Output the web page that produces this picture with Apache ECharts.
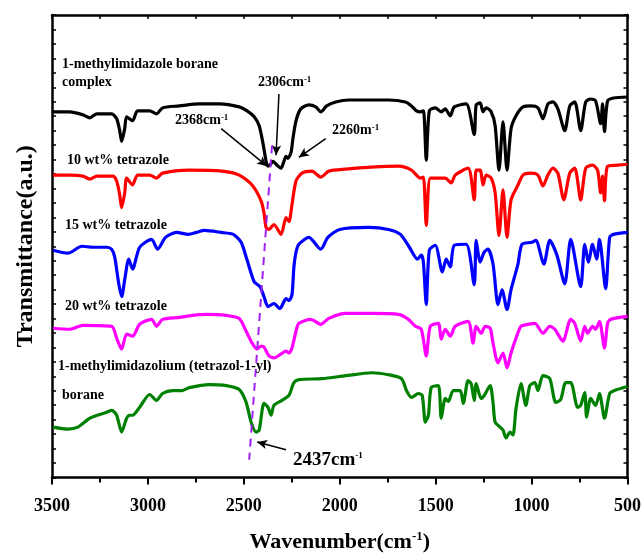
<!DOCTYPE html>
<html>
<head>
<meta charset="utf-8">
<script src="https://cdn.jsdelivr.net/npm/echarts@6/dist/echarts.min.js"></script>
<style>
  html, body { margin: 0; padding: 0; background: #fff; }
  #chart { width: 644px; height: 558px; }
</style>
</head>
<body>
<div id="chart"></div>
<script>
// FTIR spectra, [wavenumber (cm-1), transmittance (a.u., offset)]
var borane = [
  [3495, 37.0], [3407, 37.0], [3339, 36.7], [3303, 36.4], [3266, 36.8], [3189, 36.8], [3163, 36.3],
  [3147, 35.1], [3137, 34.0], [3121, 35.3], [3111, 36.5], [3080, 36.1], [3054, 37.1], [2991, 37.1],
  [2955, 36.8], [2924, 37.4], [2836, 37.6], [2732, 37.8], [2628, 37.8], [2524, 37.5], [2483, 37.1],
  [2446, 36.5], [2420, 35.6], [2400, 33.8], [2384, 32.0], [2374, 31.5], [2364, 31.6], [2348, 32.0],
  [2327, 31.6], [2306, 31.3], [2291, 32.0], [2280, 32.5], [2270, 32.3], [2254, 32.9], [2244, 34.3],
  [2228, 36.1], [2203, 37.3], [2161, 37.7], [2125, 37.5], [2099, 37.0], [2068, 37.6], [2021, 38.0],
  [1953, 38.2], [1746, 38.2], [1658, 38.0], [1626, 37.6], [1600, 37.1], [1580, 37.0], [1564, 37.1],
  [1549, 32.1], [1533, 37.1], [1502, 37.4], [1471, 37.0], [1450, 37.3], [1424, 36.6], [1403, 37.5],
  [1341, 37.8], [1299, 34.7], [1289, 37.7], [1268, 37.9], [1253, 37.0], [1237, 37.4], [1211, 37.0],
  [1190, 35.6], [1170, 31.1], [1149, 36.0], [1128, 31.1], [1107, 35.3], [1081, 36.6], [1045, 37.5],
  [1004, 37.6], [967, 37.4], [941, 36.3], [915, 37.8], [889, 38.0], [863, 37.3], [827, 35.1],
  [801, 37.6], [775, 38.0], [744, 35.1], [718, 38.0], [692, 38.3], [666, 38.1], [640, 35.8],
  [630, 37.8], [620, 35.0], [604, 38.1], [573, 38.4], [500, 38.5]
];
var tz10 = [
  [3495, 30.6], [3407, 30.6], [3339, 30.5], [3303, 30.2], [3266, 30.5], [3183, 30.5], [3163, 30.0],
  [3147, 28.6], [3137, 27.3], [3121, 28.8], [3111, 30.3], [3080, 29.6], [3054, 30.6], [2991, 30.6],
  [2955, 30.3], [2924, 30.8], [2784, 31.1], [2613, 31.0], [2524, 30.6], [2457, 29.6], [2410, 28.0],
  [2395, 26.8], [2384, 25.3], [2369, 25.1], [2343, 25.6], [2306, 24.6], [2280, 26.3], [2265, 25.9],
  [2249, 27.6], [2228, 30.0], [2197, 30.8], [2145, 31.0], [2099, 30.4], [2057, 31.0], [1969, 31.2],
  [1834, 31.4], [1694, 31.5], [1626, 31.1], [1580, 30.3], [1564, 30.4], [1549, 25.5], [1528, 30.3],
  [1486, 30.3], [1450, 30.3], [1419, 29.8], [1398, 30.6], [1331, 31.3], [1299, 28.1], [1289, 31.1],
  [1268, 31.1], [1253, 29.6], [1237, 30.6], [1211, 30.3], [1190, 28.8], [1170, 24.5], [1149, 29.1],
  [1128, 24.3], [1107, 28.1], [1071, 29.6], [1045, 30.6], [1004, 30.8], [967, 30.6], [941, 29.5],
  [915, 30.6], [889, 31.3], [863, 30.8], [832, 28.1], [801, 30.8], [775, 31.3], [744, 28.1],
  [718, 31.3], [682, 31.6], [656, 31.1], [640, 28.8], [630, 30.5], [620, 28.0], [604, 31.5],
  [552, 31.6], [500, 31.7]
];
var tz15 = [
  [3495, 23.0], [3417, 22.7], [3344, 23.4], [3287, 23.3], [3215, 23.3], [3189, 23.1], [3173, 22.3],
  [3152, 19.6], [3137, 18.3], [3121, 20.0], [3100, 22.1], [3080, 21.1], [3043, 23.3], [2981, 24.1],
  [2950, 23.1], [2908, 24.3], [2851, 24.8], [2789, 24.6], [2747, 24.8], [2706, 25.0], [2618, 24.8],
  [2555, 24.6], [2514, 23.8], [2483, 22.0], [2446, 19.8], [2415, 19.3], [2395, 18.3], [2374, 17.3],
  [2343, 17.6], [2312, 17.1], [2280, 18.1], [2265, 17.9], [2249, 18.5], [2239, 21.3], [2228, 22.8],
  [2213, 23.6], [2161, 24.3], [2099, 23.1], [2062, 24.3], [2000, 25.1], [1850, 25.3], [1746, 25.1],
  [1684, 24.6], [1637, 23.3], [1595, 22.1], [1575, 22.5], [1564, 21.8], [1549, 17.5], [1533, 23.0],
  [1502, 23.5], [1465, 20.8], [1445, 22.1], [1424, 21.3], [1403, 23.5], [1341, 23.6], [1299, 19.5],
  [1289, 24.0], [1268, 21.8], [1247, 22.8], [1227, 23.1], [1201, 21.6], [1175, 17.5], [1154, 19.0],
  [1128, 17.0], [1107, 19.0], [1071, 21.6], [1050, 23.6], [998, 23.8], [978, 24.0], [936, 21.6],
  [905, 24.0], [868, 22.5], [827, 19.6], [796, 24.1], [744, 19.3], [723, 23.6], [703, 21.8],
  [682, 23.6], [661, 22.1], [646, 24.1], [614, 19.1], [593, 24.3], [573, 24.6], [500, 24.8]
];
var tz20 = [
  [3495, 15.1], [3407, 15.0], [3339, 15.4], [3189, 15.3], [3163, 14.1], [3137, 13.0], [3111, 14.5],
  [3080, 14.3], [3043, 15.5], [2981, 16.0], [2955, 15.3], [2924, 16.0], [2836, 16.2], [2768, 16.4],
  [2696, 16.5], [2592, 16.4], [2524, 16.1], [2488, 14.8], [2457, 13.6], [2431, 13.0], [2410, 13.3],
  [2395, 13.2], [2369, 12.3], [2343, 12.1], [2306, 12.5], [2280, 12.8], [2265, 12.6], [2249, 13.1],
  [2228, 14.8], [2213, 15.6], [2151, 16.0], [2099, 15.5], [2057, 16.1], [1969, 16.6], [1834, 16.6],
  [1694, 16.5], [1642, 16.0], [1606, 15.3], [1575, 15.0], [1549, 12.3], [1528, 15.3], [1486, 15.6],
  [1471, 14.0], [1450, 15.0], [1424, 14.3], [1398, 15.3], [1331, 15.8], [1305, 13.6], [1289, 15.3],
  [1263, 14.6], [1242, 15.3], [1216, 15.1], [1201, 13.6], [1175, 11.6], [1149, 12.6], [1128, 11.1],
  [1107, 12.6], [1081, 14.1], [1055, 15.3], [1019, 15.5], [983, 15.6], [941, 14.6], [905, 15.3],
  [879, 15.0], [837, 13.8], [796, 16.0], [775, 15.6], [744, 13.8], [723, 15.3], [708, 14.6],
  [682, 15.3], [666, 15.0], [646, 15.8], [620, 13.1], [604, 15.6], [588, 16.0], [500, 16.3]
];
var tzBorane = [
  [3495, 5.1], [3417, 4.9], [3365, 5.1], [3303, 6.0], [3215, 6.6], [3189, 6.8], [3163, 6.3],
  [3137, 4.6], [3111, 6.0], [3095, 6.3], [3080, 6.3], [3043, 7.1], [2991, 8.4], [2955, 7.8],
  [2924, 8.5], [2872, 8.8], [2820, 8.8], [2784, 9.1], [2680, 9.4], [2592, 9.3], [2524, 8.9],
  [2488, 7.6], [2462, 5.6], [2436, 4.6], [2420, 4.8], [2395, 7.5], [2374, 7.1], [2358, 6.3],
  [2343, 7.3], [2301, 7.8], [2265, 8.3], [2239, 9.6], [2213, 9.9], [2093, 10.0], [1969, 10.3],
  [1834, 10.6], [1746, 10.4], [1678, 10.0], [1652, 8.8], [1626, 8.1], [1590, 8.5], [1570, 8.3],
  [1554, 5.6], [1538, 6.3], [1523, 9.1], [1486, 9.3], [1471, 6.0], [1450, 8.0], [1434, 7.7],
  [1408, 8.8], [1372, 8.8], [1356, 7.5], [1331, 9.8], [1315, 9.5], [1299, 7.8], [1289, 9.5],
  [1263, 8.0], [1247, 8.3], [1216, 9.3], [1201, 7.6], [1190, 5.6], [1164, 5.1], [1149, 4.8],
  [1133, 4.0], [1112, 4.6], [1097, 4.3], [1081, 7.0], [1055, 9.5], [1030, 7.3], [1009, 9.3],
  [983, 9.6], [967, 8.8], [941, 10.3], [905, 10.0], [874, 7.6], [848, 7.9], [822, 9.6],
  [796, 9.6], [760, 7.1], [744, 7.3], [723, 8.6], [713, 6.1], [692, 8.0], [666, 7.3],
  [646, 8.5], [620, 6.0], [593, 8.5], [568, 8.8], [500, 9.2]
];

// dashed guide line through the B-H peak shift
var guideLine = [[2353, 33.6], [2472, 1.8]];
// arrows: [fromWn, fromT, toWn, toT]
var arrows = [
  [2618, 35.3, 2379, 31.5],
  [2317, 38.8, 2332, 32.6],
  [2073, 34.3, 2213, 32.4],
  [2280, 2.8, 2431, 3.6]
];

var serif = '"Liberation Serif", "Times New Roman", serif';
var chart = echarts.init(document.getElementById('chart'));

function spec (data, color) {
  return {
    type: 'line',
    data: data,
    showSymbol: false,
    smooth: 0.25,
    lineStyle: { color: color, width: 3.2 },
    z: 3
  };
}

// labels drawn as plain text in the plot
function label (left, top, text, size) {
  return {
    type: 'text',
    left: left,
    top: top,
    style: {
      text: text,
      fill: '#000',
      font: 'bold ' + (size || 14) + 'px ' + serif,
      rich: {
        s: { fontSize: 9, fontWeight: 'bold', fontFamily: serif, verticalAlign: 'top', padding: [0, 0, 6, 0] }
      }
    },
    z: 10
  };
}

var axisLine = { show: true, onZero: false, lineStyle: { color: '#000', width: 2.5 } };

var option = {
  animation: false,
  backgroundColor: '#fff',
  grid: { left: 52, right: 14, top: 15, bottom: 75 },
  xAxis: [
    {
      type: 'value', min: 500, max: 3500, interval: 500, inverse: true, position: 'bottom',
      axisLine: axisLine,
      axisTick: { inside: false, length: 7, lineStyle: { color: '#000', width: 2 } },
      minorTick: { show: true, splitNumber: 2, length: 5, lineStyle: { color: '#000', width: 2 } },
      splitLine: { show: false },
      axisLabel: {
        color: '#000', fontFamily: serif, fontWeight: 'bold', fontSize: 18, margin: 20,
        formatter: function (v) { return String(v); }
      },
      name: '{a|Wavenumber(cm}{s|-1}{a|)}',
      nameLocation: 'middle',
      nameGap: 53,
      nameTextStyle: {
        rich: {
          a: { fontSize: 22, fontWeight: 'bold', fontFamily: serif, color: '#000' },
          s: { fontSize: 13, fontWeight: 'bold', fontFamily: serif, color: '#000', verticalAlign: 'top', padding: [0, 0, 10, 0] }
        }
      }
    },
    {
      type: 'value', min: 500, max: 3500, interval: 250, inverse: true, position: 'top',
      axisLine: axisLine,
      axisTick: { inside: true, length: 4, lineStyle: { color: '#000', width: 1.5 } },
      axisLabel: { show: false },
      splitLine: { show: false }
    }
  ],
  yAxis: [
    {
      type: 'value', min: 0, max: 46.8, interval: 1.4625, position: 'left',
      axisLine: axisLine,
      axisTick: { inside: true, length: 4, lineStyle: { color: '#000', width: 1.5 } },
      axisLabel: { show: false },
      splitLine: { show: false },
      name: 'Transmittance(a.u.)',
      nameLocation: 'middle',
      nameGap: 14,
      nameTextStyle: { fontSize: 24, fontWeight: 'bold', fontFamily: serif, color: '#000' }
    },
    {
      type: 'value', min: 0, max: 46.8, interval: 1.4625, position: 'right',
      axisLine: axisLine,
      axisTick: { inside: true, length: 4, lineStyle: { color: '#000', width: 1.5 } },
      axisLabel: { show: false },
      splitLine: { show: false }
    }
  ],
  series: [
    spec(borane, '#000000'),
    spec(tz10, '#ff0000'),
    spec(tz15, '#0000ff'),
    spec(tz20, '#ff00ff'),
    spec(tzBorane, '#008000'),
    {
      type: 'line',
      data: guideLine,
      showSymbol: false,
      lineStyle: { color: '#a020f0', width: 2, type: [8, 6] },
      z: 5,
      markLine: {
        silent: true,
        symbol: ['none', 'arrow'],
        symbolSize: [7, 10],
        label: { show: false },
        lineStyle: { color: '#000', width: 1.5, type: 'solid' },
        data: arrows.map(function (a) {
          return [{ coord: [a[0], a[1]] }, { coord: [a[2], a[3]] }];
        })
      }
    }
  ],
  graphic: [
    label(62, 57, '1-methylimidazole borane'),
    label(62, 75, 'complex'),
    label(67, 153, '10 wt% tetrazole'),
    label(65, 218, '15 wt% tetrazole'),
    label(65, 299, '20 wt% tetrazole'),
    label(58, 359, '1-methylimidazolium (tetrazol-1-yl)'),
    label(62, 388, 'borane'),
    label(175, 113, '2368cm{s|-1}'),
    label(258, 75, '2306cm{s|-1}'),
    label(332, 123, '2260m{s|-1}'),
    label(293, 451, '2437cm{s|-1}', 19)
  ]
};

chart.setOption(option);
</script>
</body>
</html>
